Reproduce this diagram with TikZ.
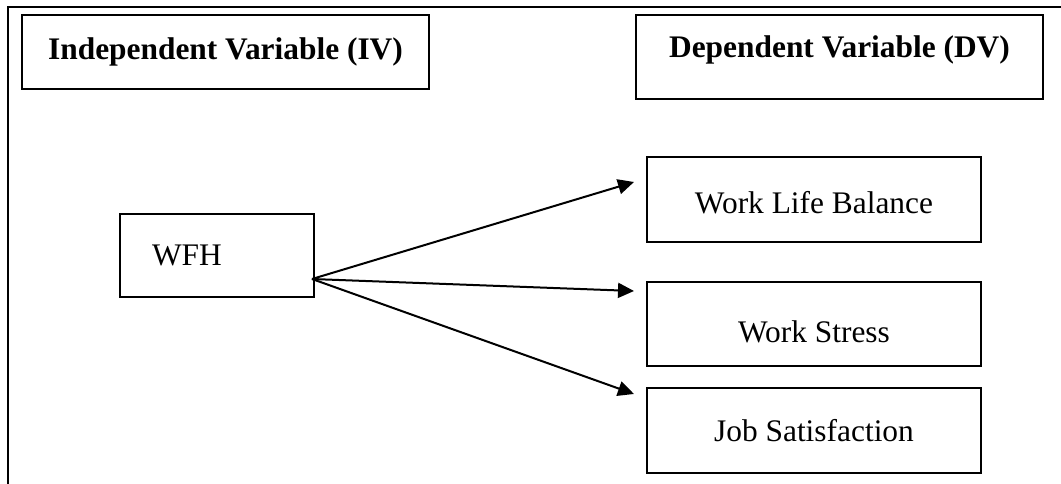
\documentclass[tikz,border=0pt]{standalone}
\usepackage{fontspec}
\setmainfont{Liberation Serif}
\usetikzlibrary{arrows.meta}

\begin{document}
\begin{tikzpicture}[x=1pt,y=-1pt,
  box/.style={draw,line width=2pt,inner sep=0pt,font=\fontsize{31.4}{36}\selectfont},
  hdr/.style={box,font=\fontsize{31.4}{36}\selectfont\bfseries},
  link/.style={line width=2pt,-{Triangle[length=16pt,width=15pt]}}]
\useasboundingbox (0,0) rectangle (1061,484);

% outer frame
\draw[line width=2.5pt] (8,484) -- (8,7) -- (1061,7);

% headings
\node[hdr,minimum width=407pt,minimum height=74pt] (iv) at (225.5,52) {Independent Variable (IV)};
\node[hdr,minimum width=407pt,minimum height=84pt,text depth=21pt] (dv) at (839.5,57) {Dependent Variable (DV)};

% independent
\node[box,minimum width=194pt,minimum height=83pt,inner xsep=32pt] (wfh) at (217,255.5) {\makebox[130pt][l]{WFH}};

% dependent
\node[box,minimum width=334pt,minimum height=85pt,text height=28pt] (wlb) at (814,199.5) {Work Life Balance};
\node[box,minimum width=334pt,minimum height=84pt,text height=37pt] (ws) at (814,324) {Work Stress};
\node[box,minimum width=334pt,minimum height=85pt] (js) at (814,430.5) {Job Satisfaction};

\coordinate (src) at ([xshift=-3pt,yshift=19pt]wfh.south east);
\coordinate (t1) at ([xshift=-12pt,yshift=-26pt]wlb.north west);
\coordinate (t2) at ([xshift=-12pt,yshift=-10pt]ws.north west);
\coordinate (t3) at ([xshift=-12pt,yshift=-7pt]js.north west);

\foreach \t in {t1,t2,t3}
  \draw[link] (src) -- (\t);
\end{tikzpicture}
\end{document}
